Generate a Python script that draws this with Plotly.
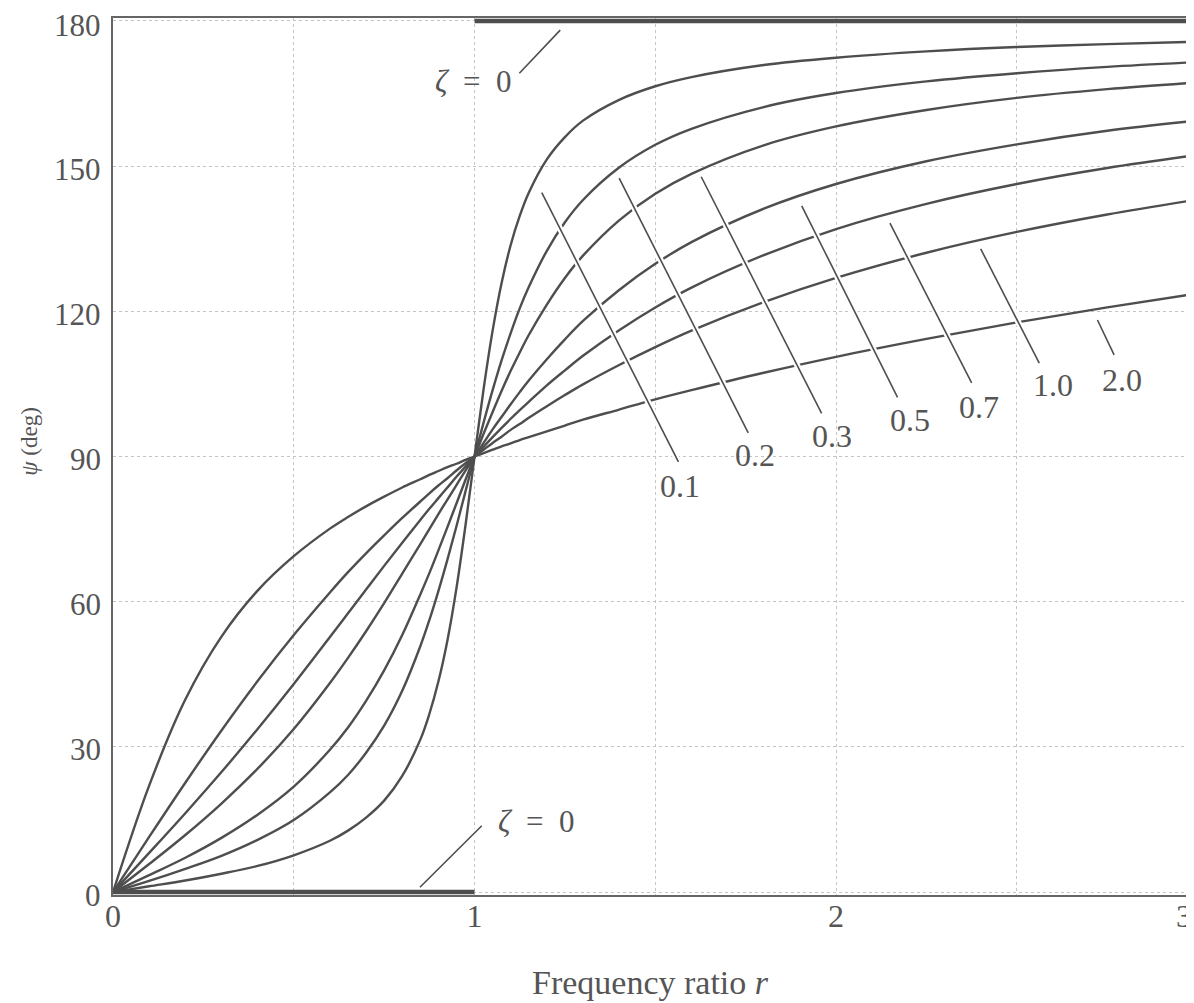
import plotly.graph_objects as go

# Frequency ratio values (shared by all damping curves)
r_values = [0, 0.1, 0.2, 0.3, 0.4, 0.5, 0.6, 0.65, 0.7, 0.75, 0.8, 0.85, 0.875, 0.9, 0.925, 0.95, 0.975, 1.0,
            1.025, 1.05, 1.075, 1.1, 1.125, 1.15, 1.2, 1.25, 1.3, 1.4, 1.5, 1.6, 1.8, 2.0, 2.25, 2.5, 2.75, 3.0]

# Phase angle psi (deg) for each damping ratio
psi_z01 = [0, 1.2, 2.4, 3.8, 5.4, 7.6, 10.6, 12.7, 15.4, 18.9, 24.0, 31.5, 36.8, 43.5, 52.0, 62.8, 75.8, 90,
           103.9, 116.0, 125.9, 133.7, 139.7, 144.5, 151.4, 156.0, 159.4, 163.7, 166.5, 168.4, 170.9, 172.4, 173.7, 174.6, 175.2, 175.7]
psi_z02 = [0, 2.3, 4.8, 7.5, 10.8, 14.9, 20.6, 24.2, 28.8, 34.4, 41.6, 50.8, 56.2, 62.2, 68.7, 75.6, 82.8, 90,
           97.0, 103.7, 109.9, 115.5, 120.6, 125.0, 132.5, 138.4, 143.0, 149.7, 154.4, 157.7, 162.2, 165.1, 167.5, 169.2, 170.5, 171.5]
psi_z03 = [0, 3.5, 7.1, 11.2, 16.0, 21.8, 29.4, 34.0, 39.5, 45.8, 53.1, 61.5, 65.9, 70.6, 75.4, 80.3, 85.2, 90,
           94.7, 99.2, 103.6, 107.7, 111.5, 115.1, 121.4, 126.9, 131.5, 138.8, 144.3, 148.4, 154.3, 158.2, 161.6, 164.1, 165.9, 167.3]
psi_z05 = [0, 5.8, 11.8, 18.3, 25.5, 33.7, 43.2, 48.4, 53.9, 59.7, 65.8, 71.9, 75.0, 78.1, 81.1, 84.1, 87.1, 90,
           92.8, 95.6, 98.2, 100.8, 103.3, 105.7, 110.1, 114.2, 118.0, 124.4, 129.8, 134.3, 141.2, 146.3, 151.0, 154.5, 157.3, 159.4]
psi_z07 = [0, 8.1, 16.3, 24.8, 33.7, 43.0, 52.7, 57.6, 62.5, 67.4, 72.2, 76.9, 79.2, 81.4, 83.6, 85.8, 87.9, 90,
           92.0, 94.0, 95.9, 97.8, 99.6, 101.3, 104.7, 107.8, 110.8, 116.1, 120.8, 124.9, 131.6, 137.0, 142.2, 146.3, 149.6, 152.3]
psi_z10 = [0, 11.4, 22.6, 33.4, 43.6, 53.1, 61.9, 66.1, 70.0, 73.7, 77.3, 80.7, 82.4, 84.0, 85.5, 87.1, 88.6, 90,
           91.4, 92.8, 94.1, 95.5, 96.7, 98.0, 100.4, 102.7, 104.9, 108.9, 112.6, 116.0, 121.9, 126.9, 132.1, 136.4, 140.0, 143.1]
psi_z20 = [0, 22.0, 39.8, 52.8, 62.3, 69.4, 75.1, 77.5, 79.7, 81.7, 83.6, 85.3, 86.2, 87.0, 87.8, 88.5, 89.3, 90,
           90.7, 91.4, 92.1, 92.7, 93.4, 94.0, 95.2, 96.4, 97.6, 99.7, 101.8, 103.7, 107.3, 110.6, 114.3, 117.7, 120.8, 123.7]

zeta_labels = ["0.1", "0.2", "0.3", "0.5", "0.7", "1.0", "2.0"]

# undamped case: 0 below resonance, 180 above
r_zeta0_low = [0, 1]
psi_zeta0_low = [0, 0]
r_zeta0_high = [1, 3]
psi_zeta0_high = [180, 180]

x_tickvals = [0, 0.5, 1, 1.5, 2, 2.5]
x_ticktext = ["0", "", "1", "", "2", ""]
x_edge_label = "3"
y_tickvals = [0, 30, 60, 90, 120, 150, 180]
y_ticktext = ["0", "30", "60", "90", "120", "150", "180"]

INK = "#4e4e4e"
TXT = "#555555"
FONT = "Liberation Serif"

fig = go.Figure()

for psi in [psi_z01, psi_z02, psi_z03, psi_z05, psi_z07, psi_z10, psi_z20]:
    fig.add_trace(go.Scatter(x=r_values, y=psi, mode="lines",
                             line=dict(color=INK, width=2.4, shape="spline", smoothing=1.0),
                             showlegend=False, hoverinfo="skip"))

for rx, py in [(r_zeta0_low, psi_zeta0_low), (r_zeta0_high, psi_zeta0_high)]:
    fig.add_trace(go.Scatter(x=rx, y=py, mode="lines",
                             line=dict(color=INK, width=4.5),
                             showlegend=False, hoverinfo="skip"))

# leader lines: (x0, y0, x1, y1) and label position
leaders = [
    (1.186, 144.5, 1.564, 88.9, 1.568, 84.0),
    (1.400, 147.5, 1.757, 94.9, 1.776, 90.4),
    (1.627, 147.8, 1.960, 98.9, 1.988, 94.3),
    (1.905, 141.8, 2.170, 102.2, 2.205, 97.6),
    (2.149, 138.2, 2.375, 105.2, 2.394, 100.2),
    (2.400, 132.9, 2.562, 109.3, 2.601, 104.7),
    (2.723, 118.2, 2.769, 111.0, 2.790, 105.9),
]
zeta0_leaders = [
    (1.237, 178.1, 1.124, 169.2, 0.996, 167.4),
    (0.849, 1.0, 1.020, 13.7, 1.172, 14.5),
]

shapes = []
for x0, y0, x1, y1, _, _ in leaders + zeta0_leaders:
    shapes.append(dict(type="line", x0=x0, y0=y0, x1=x1, y1=y1, xref="x", yref="y",
                       line=dict(color="white", width=6)))
    shapes.append(dict(type="line", x0=x0, y0=y0, x1=x1, y1=y1, xref="x", yref="y",
                       line=dict(color=INK, width=1.6)))

annotations = []
for lab, (_, _, _, _, tx, ty) in zip(zeta_labels, leaders):
    annotations.append(dict(x=tx, y=ty, text=lab, showarrow=False, xref="x", yref="y",
                            xanchor="center", yanchor="middle",
                            font=dict(family=FONT, size=32, color=TXT)))
for _, _, _, _, tx, ty in zeta0_leaders:
    annotations.append(dict(x=tx, y=ty, text="<i>ζ</i>\u2002=\u20020", showarrow=False,
                            xref="x", yref="y", xanchor="center", yanchor="middle",
                            font=dict(family=FONT, size=31, color=TXT)))

# y tick labels as annotations so the top one is not dropped at the figure edge
for v, t in zip(y_tickvals, y_ticktext):
    annotations.append(dict(x=0, y=v, xref="paper", yref="y", text=t, showarrow=False,
                            xanchor="right", yanchor="middle", xshift=-10,
                            yshift=-5 if v == 180 else -3,
                            font=dict(family=FONT, size=31, color=TXT)))

# the "3" tick sits right at the cropped edge
annotations.append(dict(x=1, y=-0.024, xref="paper", yref="paper", text=x_edge_label,
                        showarrow=False, xanchor="right", yanchor="middle",
                        font=dict(family=FONT, size=32, color=TXT)))

annotations.append(dict(x=0.497, y=-0.100, xref="paper", yref="paper", showarrow=False,
                        xanchor="center", yanchor="middle",
                        text="Frequency ratio <i>r</i>",
                        font=dict(family=FONT, size=34, color=TXT)))
annotations.append(dict(x=-0.0767, y=0.517, xref="paper", yref="paper", showarrow=False,
                        xanchor="center", yanchor="middle",
                        text="<i>ψ</i> (deg)", textangle=-90,
                        font=dict(family=FONT, size=23, color=TXT)))

# page body has an 8px margin, so the figure is offset by 8px
fig.update_layout(
    width=1186, height=995,
    margin=dict(l=105, r=0, t=10, b=108),
    paper_bgcolor="white", plot_bgcolor="white",
    shapes=shapes, annotations=annotations,
    xaxis=dict(range=[0, 2.99], tickvals=x_tickvals, ticktext=x_ticktext,
               showgrid=True, gridcolor="#c4c4c4", gridwidth=1, griddash="dot",
               zeroline=False, showline=True, linecolor="#666666", linewidth=1.5, mirror=True,
               ticks="", ticklabelstandoff=-8,
               tickfont=dict(family=FONT, size=32, color=TXT)),
    yaxis=dict(range=[-0.6, 180.6], tickvals=y_tickvals, showticklabels=False,
               showgrid=True, gridcolor="#c4c4c4", gridwidth=1, griddash="dot",
               zeroline=False, showline=True, linecolor="#666666", linewidth=1.5,
               ticks=""),
)

fig.write_html("out.html")
